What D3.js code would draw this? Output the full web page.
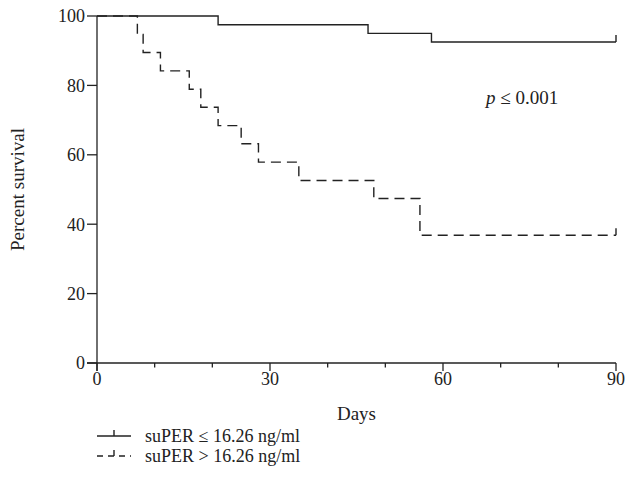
<!DOCTYPE html>
<html>
<head>
<meta charset="utf-8">
<script src="https://cdn.jsdelivr.net/npm/d3@7"></script>
<style>
	body { margin: 0; background: #fff; }
	svg { font-family: "Liberation Serif", "DejaVu Serif", serif; }
	.axis path, .axis line { stroke: #222; stroke-width: 1.3; }
	.axis text { font-size: 18px; fill: #222; }
	.label { font-size: 19px; fill: #222; }
	.legend text { font-size: 18px; }
	.curve { fill: none; stroke: #222; stroke-width: 1.4; }
</style>
</head>
<body>
<svg></svg>
<script>
//* data (Kaplan-Meier steps)
const lowDays = [0, 21, 47, 58, 90];
const lowSurv = [100, 97.5, 95, 92.5, 92.5];
const highDays = [0, 7, 8, 11, 16, 18, 21, 25, 28, 35, 48, 56, 90];
const highSurv = [100, 94.7, 89.5, 84.2, 78.9, 73.7, 68.4, 63.2, 57.9, 52.6, 47.4, 36.8, 36.8];
const xTicks = [0, 30, 60, 90];
const yTicks = [0, 20, 40, 60, 80, 100];
const legendLabels = ["suPER \u2264 16.26 ng/ml", "suPER > 16.26 ng/ml"];

const svg = d3.select("svg").attr("width", 626).attr("height", 495);

//* scales
const x = d3.scaleLinear().domain([0, 90]).range([97, 616]);
const y = d3.scaleLinear().domain([0, 100]).range([363, 16]);

//* axes
const xAxis = svg
	.append("g")
	.attr("class", "axis")
	.attr("transform", `translate(0, ${y(0)})`);
xAxis.append("line").attr("x1", 87).attr("x2", x(90));
xAxis
	.selectAll("line.tick")
	.data(d3.range(0, 91, 10))
	.enter()
	.append("line")
	.attr("class", "tick")
	.attr("x1", (d) => x(d))
	.attr("x2", (d) => x(d))
	.attr("y1", 0)
	.attr("y2", (d) => (d % 30 === 0 ? 8 : 4.5));
xAxis
	.selectAll("text")
	.data(xTicks)
	.enter()
	.append("text")
	.attr("x", (d) => x(d))
	.attr("y", 22)
	.attr("text-anchor", "middle")
	.text((d) => d);

const yAxis = svg
	.append("g")
	.attr("class", "axis")
	.attr("transform", `translate(${x(0)}, 0)`);
yAxis.append("line").attr("y1", y(0) + 8).attr("y2", y(100));
yAxis
	.selectAll("line.tick")
	.data(yTicks)
	.enter()
	.append("line")
	.attr("class", "tick")
	.attr("x1", -10)
	.attr("x2", 0)
	.attr("y1", (d) => y(d))
	.attr("y2", (d) => y(d));
yAxis
	.selectAll("text")
	.data(yTicks)
	.enter()
	.append("text")
	.attr("x", -12)
	.attr("y", (d) => y(d))
	.attr("dy", "0.35em")
	.attr("text-anchor", "end")
	.text((d) => d);

//* axis titles
svg
	.append("text")
	.attr("class", "label")
	.attr("x", x(45))
	.attr("y", 420)
	.attr("text-anchor", "middle")
	.text("Days");
svg
	.append("text")
	.attr("class", "label")
	.attr("transform", `translate(24, ${y(50)}) rotate(-90)`)
	.attr("text-anchor", "middle")
	.text("Percent survival");

//* curves
const stepLine = d3
	.line()
	.curve(d3.curveStepAfter)
	.x((d) => x(d[0]))
	.y((d) => y(d[1]));

const curves = [
	{ pts: d3.zip(lowDays, lowSurv), dash: null },
	{ pts: d3.zip(highDays, highSurv), dash: "10,6" },
];
svg
	.selectAll("path.curve")
	.data(curves)
	.enter()
	.append("path")
	.attr("class", "curve")
	.attr("d", (d) => stepLine(d.pts))
	.attr("stroke-dasharray", (d) => d.dash);

//* censor ticks at the end
svg
	.selectAll("line.censor")
	.data(curves)
	.enter()
	.append("line")
	.attr("class", "curve")
	.attr("x1", (d) => x(d.pts[d.pts.length - 1][0]))
	.attr("x2", (d) => x(d.pts[d.pts.length - 1][0]))
	.attr("y1", (d) => y(d.pts[d.pts.length - 1][1]))
	.attr("y2", (d) => y(d.pts[d.pts.length - 1][1]) - 7);

//* p value
const pText = svg
	.append("text")
	.attr("class", "label")
	.attr("x", 486)
	.attr("y", 104);
pText.append("tspan").style("font-style", "italic").text("p");
pText.append("tspan").text(" \u2264 0.001");

//* legend
const legend = svg
	.selectAll("g.legend")
	.data(legendLabels)
	.enter()
	.append("g")
	.attr("class", "legend")
	.attr("transform", (_, i) => `translate(97, ${436 + i * 20})`);
legend
	.append("line")
	.attr("class", "curve")
	.attr("x1", 0)
	.attr("x2", 34)
	.attr("y1", 0)
	.attr("y2", 0)
	.attr("stroke-dasharray", (_, i) => (i ? "6,5" : null));
legend
	.append("line")
	.attr("class", "curve")
	.attr("x1", 17)
	.attr("x2", 17)
	.attr("y1", 0)
	.attr("y2", -6);
legend
	.append("text")
	.attr("class", "label")
	.attr("x", 48)
	.attr("y", 6)
	.text((d) => d);
</script>
</body>
</html>
